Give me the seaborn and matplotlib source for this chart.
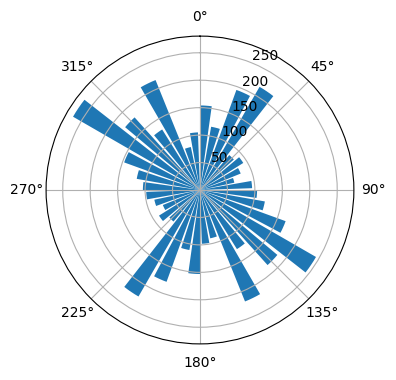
import numpy as np
import matplotlib
matplotlib.use("Agg")
import matplotlib.pyplot as plt
import seaborn as sns

# direction bins (degrees, left edge of each 10 degree sector)
directions = list(range(0, 360, 10))
counts = [154, 117, 194, 217, 83, 93, 80, 64, 95,
          104, 120, 166, 244, 184, 127, 219, 90, 98,
          153, 111, 178, 224, 75, 88, 73, 85, 98,
          104, 117, 147, 267, 178, 130, 216, 80, 105]

color = sns.color_palette("tab10")[0]

fig = plt.figure(figsize=(3.96, 3.8), dpi=100)
ax = fig.add_axes([0.116, 0.095, 0.778, 0.81], projection="polar")
theta = np.deg2rad(directions)
ax.bar(theta, counts, width=np.deg2rad(8), align="edge", color=color)
ax.set_theta_zero_location("N")
ax.set_theta_direction(-1)
ax.set_rticks([50, 100, 150, 200, 250])

fig.savefig("out.png", dpi=100)
